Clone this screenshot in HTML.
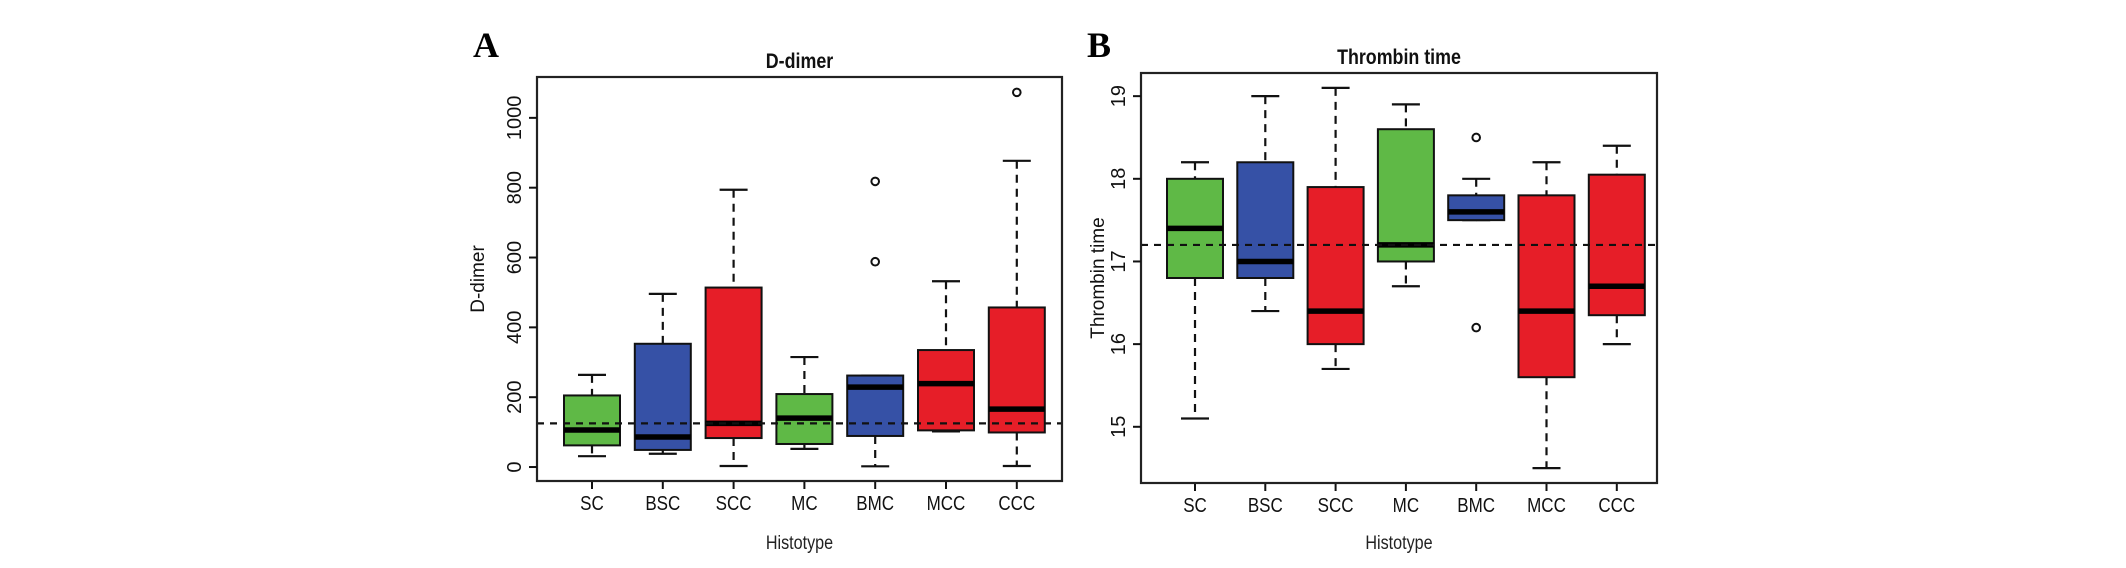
<!DOCTYPE html>
<html><head><meta charset="utf-8">
<style>
html,body{margin:0;padding:0;background:#fff;}
svg{display:block;}
text{font-family:"Liberation Sans",sans-serif;}
</style></head>
<body>
<svg id="fig" width="2126" height="568" viewBox="0 0 2126 568" xmlns="http://www.w3.org/2000/svg">
<text x="486" y="57" font-weight="bold" font-size="36" text-anchor="middle" style="font-family:'Liberation Serif',serif">A</text>
<text x="1099" y="57" font-weight="bold" font-size="36" text-anchor="middle" style="font-family:'Liberation Serif',serif">B</text>
</svg>
<script>
const categories = ["SC","BSC","SCC","MC","BMC","MCC","CCC"];
const colors = ["#5fb946","#3651a6","#e61e28","#5fb946","#3651a6","#e61e28","#e61e28"];
// Panel A: D-dimer
const aLow = [31,38,3,52,2,102,3];
const aQ1 = [62,49,83,66,89,105,99];
const aMed = [106,86,125,140,229,239,166];
const aQ3 = [205,353,514,209,262,335,457];
const aHigh = [264,496,794,315,262,532,877];
const aOutliers = [[],[],[],[],[588,818],[],[1073]];
const aTicks = [0,200,400,600,800,1000];
const aRef = [125];
// Panel B: Thrombin time
const bLow = [15.1,16.4,15.7,16.7,17.5,14.5,16.0];
const bQ1 = [16.8,16.8,16.0,17.0,17.5,15.6,16.35];
const bMed = [17.4,17.0,16.4,17.2,17.6,16.4,16.7];
const bQ3 = [18.0,18.2,17.9,18.6,17.8,17.8,18.05];
const bHigh = [18.2,19.0,19.1,18.9,18.0,18.2,18.4];
const bOutliers = [[],[],[],[],[18.5,16.2],[],[]];
const bTicks = [15,16,17,18,19];
const bRef = [17.2];

const NS="http://www.w3.org/2000/svg";
const svg=document.getElementById('fig');
function mk(tag,attrs,parent){const e=document.createElementNS(NS,tag);for(const k in attrs)e.setAttribute(k,attrs[k]);(parent||svg).appendChild(e);return e;}

function panel(p){
  const g=mk('g',{});
  
  
  const y=v=>p.top+(p.yMax-v)/(p.yMax-p.yMin)*(p.bottom-p.top);
  const x=i=>p.x0+i*p.step;
  const hw=28, cap=14;
  categories.forEach((c,i)=>{
    const bg=mk('g',{},g);
    
    
    const cx=x(i);
    mk('line',{x1:cx,x2:cx,y1:y(p.hi[i]),y2:y(p.q3[i]),stroke:'#111','stroke-width':2.2,'stroke-dasharray':'8,6'},bg);
    mk('line',{x1:cx,x2:cx,y1:y(p.q1[i]),y2:y(p.lo[i]),stroke:'#111','stroke-width':2.2,'stroke-dasharray':'8,6'},bg);
    mk('line',{x1:cx-cap,x2:cx+cap,y1:y(p.hi[i]),y2:y(p.hi[i]),stroke:'#111','stroke-width':2.2},bg);
    mk('line',{x1:cx-cap,x2:cx+cap,y1:y(p.lo[i]),y2:y(p.lo[i]),stroke:'#111','stroke-width':2.2},bg);
    mk('rect',{x:cx-hw,y:y(p.q3[i]),width:hw*2,height:Math.max(1,y(p.q1[i])-y(p.q3[i])),fill:colors[i],stroke:'#111','stroke-width':2},bg);
    mk('line',{x1:cx-hw,x2:cx+hw,y1:y(p.med[i]),y2:y(p.med[i]),stroke:'#000','stroke-width':5.5},bg);
    p.out[i].forEach(v=>{
      const o=mk('circle',{cx:cx,cy:y(v),r:3.8,fill:'none',stroke:'#111','stroke-width':2},bg);
      
      
    });
    mk('line',{x1:cx,x2:cx,y1:p.bottom,y2:p.bottom+8,stroke:'#111','stroke-width':2},g);
    const t=mk('text',{x:cx,y:p.bottom+29,'font-size':20,'text-anchor':'middle',fill:'#111',transform:`translate(${cx},0) scale(0.85,1) translate(${-cx},0)`},g);
    t.textContent=c;
    
    
  });
  p.ref.forEach(v=>{
    const l=mk('line',{x1:p.left,x2:p.right,y1:y(v),y2:y(v),stroke:'#111','stroke-width':2.2,'stroke-dasharray':'7,6'},g);
    
    
  });
  const fr=mk('rect',{x:p.left,y:p.top,width:p.right-p.left,height:p.bottom-p.top,fill:'none',stroke:'#222','stroke-width':2.2},g);
  
  
  p.ticks.forEach(v=>{
    mk('line',{x1:p.left-8,x2:p.left,y1:y(v),y2:y(v),stroke:'#111','stroke-width':2},g);
    const tx=p.left-16;
    const t=mk('text',{x:tx,y:y(v),'font-size':20,'text-anchor':'middle',fill:'#111',transform:`rotate(-90 ${tx} ${y(v)})`},g);
    t.textContent=v;
    
    
  });
  const yt=mk('text',{x:p.ytx,y:(p.top+p.bottom)/2,'font-size':19,'text-anchor':'middle',fill:'#111',transform:`rotate(-90 ${p.ytx} ${(p.top+p.bottom)/2})`},g);
  yt.textContent=p.ytitle;
  
  
  const xt=mk('text',{x:(p.left+p.right)/2,y:549,'font-size':19,'text-anchor':'middle',fill:'#222',transform:`translate(${(p.left+p.right)/2},0) scale(0.85,1) translate(${-(p.left+p.right)/2},0)`},g);
  xt.textContent='Histotype';
  
  
  const tt=mk('text',{x:(p.left+p.right)/2,y:p.top-9,'font-size':21,'font-weight':'bold','text-anchor':'middle',fill:'#111',transform:`translate(${(p.left+p.right)/2},0) scale(0.85,1) translate(${-(p.left+p.right)/2},0)`},g);
  tt.textContent=p.title;
  
  
}
panel({id:'d-dimer',left:537,right:1062,top:77,bottom:481,yMin:-40,yMax:1117,x0:592,step:70.8,
  lo:aLow,q1:aQ1,med:aMed,q3:aQ3,hi:aHigh,out:aOutliers,ticks:aTicks,ref:aRef,ytitle:'D-dimer',ytx:484,title:'D-dimer'});
panel({id:'thrombin-time',left:1141,right:1657,top:73,bottom:483,yMin:14.32,yMax:19.28,x0:1195,step:70.3,
  lo:bLow,q1:bQ1,med:bMed,q3:bQ3,hi:bHigh,out:bOutliers,ticks:bTicks,ref:bRef,ytitle:'Thrombin time',ytx:1104,title:'Thrombin time'});
</script>
</body></html>
